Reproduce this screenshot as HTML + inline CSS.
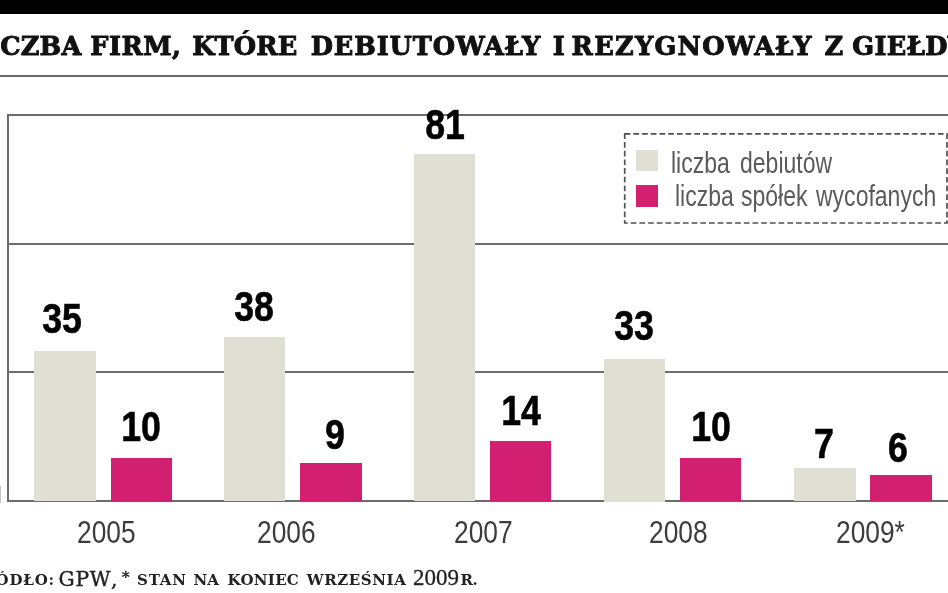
<!DOCTYPE html>
<html lang="pl">
<head>
<meta charset="utf-8">
<title>Liczba firm, które debiutowały i rezygnowały z giełdy</title>
<style>
html,body{margin:0;padding:0;background:#fff;overflow:hidden;}
body{width:948px;height:593px;position:relative;overflow:hidden;font-family:"Liberation Sans",sans-serif;}
.abs{position:absolute;}
#topbar{left:0;top:0;width:948px;height:14px;background:#000;}
#title span{position:absolute;top:0;}
#title{left:0;top:31px;white-space:nowrap;font-family:"DejaVu Serif","Liberation Serif",serif;font-weight:bold;font-size:25.6px;line-height:30px;color:#111;letter-spacing:0.6px;-webkit-text-stroke:0.9px #111;}
.ln{background:#6c6c6c;}
.bar{width:61.5px;}
.g{background:#dfdfd3;}
.p{background:#d31f6f;}
.val{-webkit-text-stroke:0.6px #000;font-weight:bold;font-size:42px;line-height:42px;color:#000;white-space:nowrap;transform-origin:50% 100%;transform:scaleX(0.85);text-align:center;width:80px;}
.yr{font-size:31px;line-height:31px;color:#3c3c3c;white-space:nowrap;transform-origin:0 100%;transform:scaleX(0.85);}
.sw{width:22px;height:22px;}
.lt{font-size:30px;line-height:30px;color:#5a5a5a;white-space:nowrap;transform-origin:0 100%;transform:scaleX(0.767);}
#foot{left:0;top:565.5px;white-space:nowrap;font-family:"DejaVu Serif","Liberation Serif",serif;font-size:19.5px;line-height:26px;color:#222;}
#foot span{position:absolute;top:0;}
#foot .sc{top:1.5px;font-size:15px;font-weight:bold;letter-spacing:0.8px;}
#foot .rg{top:0px;-webkit-text-stroke:0.4px #222;}
#foot .dg{top:-1px;-webkit-text-stroke:0.3px #222;font-family:"Liberation Serif","DejaVu Serif",serif;font-size:23px;}
</style>
</head>
<body>
<div id="topbar" class="abs"></div>
<div id="title" class="abs"><span style="left:-30.1px;letter-spacing:0.17px">LICZBA</span> <span style="left:90.3px;letter-spacing:0.48px">FIRM,</span> <span style="left:192.2px;letter-spacing:0.15px">KTÓRE</span> <span style="left:310.8px;letter-spacing:0.88px">DEBIUTOWAŁY</span> <span style="left:552.7px;letter-spacing:0.00px">I</span> <span style="left:571.6px;letter-spacing:1.28px">REZYGNOWAŁY</span> <span style="left:824.5px;letter-spacing:0.00px">Z</span> <span style="left:852.3px;letter-spacing:0.36px">GIEŁDY</span> </div>
<div class="abs" style="left:0;top:75px;width:948px;height:2px;background:#6a6a6a;"></div>

<!-- chart frame -->
<div class="abs ln" style="left:7px;top:114px;width:941px;height:2px;"></div>
<div class="abs ln" style="left:7px;top:243px;width:941px;height:2px;"></div>
<div class="abs ln" style="left:7px;top:371px;width:941px;height:2px;"></div>
<div class="abs ln" style="left:7px;top:500px;width:941px;height:2px;"></div>
<div class="abs ln" style="left:7px;top:114px;width:2px;height:388px;"></div>

<div class="abs" style="left:0;top:486px;width:1px;height:17px;background:#c4c4c4;"></div>
<!-- bars -->
<div class="abs bar g" style="left:34px;top:350.6px;height:150.9px;"></div>
<div class="abs bar p" style="left:110.5px;top:457.5px;height:44px;"></div>
<div class="abs bar g" style="left:223.7px;top:337.2px;height:164.3px;"></div>
<div class="abs bar p" style="left:300px;top:463px;height:38.5px;"></div>
<div class="abs bar g" style="left:413.6px;top:153.7px;height:347.8px;"></div>
<div class="abs bar p" style="left:489.9px;top:441px;height:60.5px;"></div>
<div class="abs bar g" style="left:603.7px;top:359px;height:142.5px;"></div>
<div class="abs bar p" style="left:679.5px;top:457.7px;height:43.8px;"></div>
<div class="abs bar g" style="left:794px;top:468.4px;height:33.1px;"></div>
<div class="abs bar p" style="left:870px;top:474.7px;height:26.8px;"></div>

<!-- values -->
<div class="abs val" style="left:22px;top:298px;">35</div>
<div class="abs val" style="left:101px;top:406px;">10</div>
<div class="abs val" style="left:214px;top:286px;">38</div>
<div class="abs val" style="left:295px;top:414px;">9</div>
<div class="abs val" style="left:405px;top:104px;">81</div>
<div class="abs val" style="left:480.5px;top:390px;">14</div>
<div class="abs val" style="left:594px;top:304.5px;">33</div>
<div class="abs val" style="left:671px;top:406px;">10</div>
<div class="abs val" style="left:784px;top:423px;">7</div>
<div class="abs val" style="left:858px;top:427px;">6</div>

<!-- years -->
<div class="abs yr" style="left:76.5px;top:517px;">2005</div>
<div class="abs yr" style="left:256.5px;top:517px;">2006</div>
<div class="abs yr" style="left:454px;top:517px;">2007</div>
<div class="abs yr" style="left:648.5px;top:517px;">2008</div>
<div class="abs yr" style="left:836px;top:517px;">2009*</div>

<!-- legend -->
<svg class="abs" style="left:620px;top:130px;" width="328" height="98" viewBox="0 0 328 98"><rect x="4.7" y="3.8" width="322.3" height="89.2" fill="none" stroke="#505050" stroke-width="1.7" stroke-dasharray="5.7 3"/></svg>
<div class="abs sw g" style="left:635.5px;top:150px;height:21px;"></div>
<div class="abs sw p" style="left:635.5px;top:185px;"></div>
<div class="abs lt" style="left:671px;top:148px;">liczba</div>
<div class="abs lt" style="left:740px;top:148px;">debiutów</div>
<div class="abs lt" style="left:674.5px;top:181px;">liczba</div>
<div class="abs lt" style="left:741px;top:181px;">spółek</div>
<div class="abs lt" style="left:815.5px;top:181px;">wycofanych</div>

<div id="foot" class="abs"><span class="sc" style="left:-29.5px;">ŹRÓDŁO:</span> <span class="rg" style="left:58.6px;font-size:20.2px;letter-spacing:0.7px;">GPW</span><span class="rg" style="left:111px;font-size:20.2px;">,</span> <span class="rg" style="left:122px;font-size:15px;top:-1.5px;">*</span> <span class="sc" style="left:137px;">STAN</span> <span class="sc" style="left:193.5px;letter-spacing:0px;">NA</span> <span class="sc" style="left:227.5px;letter-spacing:0.3px;">KONIEC</span> <span class="sc" style="left:306.7px;letter-spacing:0.6px;">WRZEŚNIA</span> <span class="dg" style="left:413px;">2009</span><span class="sc" style="left:460.5px;letter-spacing:-0.4px;">R.</span></div>
</body>
</html>
